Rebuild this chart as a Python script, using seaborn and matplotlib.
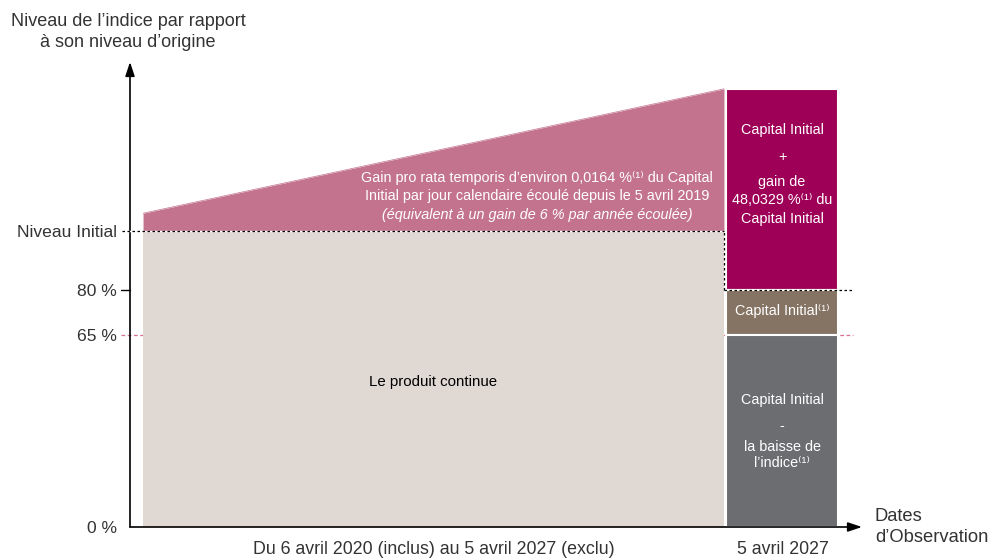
import numpy as np
import matplotlib
matplotlib.use('Agg')
import matplotlib.pyplot as plt
import seaborn as sns

# data (index level in % of initial level, time in years after 5 April 2019)
years = [1, 8]
gain_level = [106, 148.03]
initial_level = 100
barrier_gain = 80
barrier_capital = 65
obs_center = 8.70
obs_width = 1.35
ytick_vals = [0, 65, 80, 100]
ytick_labels = ['0 %', '65 %', '80 %', 'Niveau Initial']

c_gain = '#C4738F'
c_cont = '#DFD8D3'
c_win = '#9E0057'
c_cap = '#857363'
c_loss = '#6B6D70'
c_txt = '#333333'

sns.set_theme(style='white')
plt.rcParams['font.family'] = ['Liberation Sans', 'DejaVu Sans']

fig = plt.figure(figsize=(9.89, 5.58), dpi=100)
ax = fig.add_axes([130/989, 31/558, 732/989, 465/558])
ax.set_xlim(0.843, 9.663)
ax.set_ylim(0, 157.1)
for s in ax.spines.values():
    s.set_visible(False)

# period "le produit continue"
ax.fill_between(years, 0, initial_level, color=c_cont, lw=0, zorder=2)
sns.lineplot(x=years, y=gain_level, ax=ax, color=c_gain, lw=0.5, zorder=2)
ax.fill_between(years, initial_level, gain_level, color=c_gain, lw=0, zorder=2)

# observation date bars
ax.bar(obs_center, gain_level[1] - barrier_gain, bottom=barrier_gain, width=obs_width,
       color=c_win, edgecolor='white', lw=1.5, zorder=3)
ax.bar(obs_center, barrier_gain - barrier_capital, bottom=barrier_capital, width=obs_width,
       color=c_cap, edgecolor='white', lw=1.5, zorder=3)
ax.bar(obs_center, barrier_capital, bottom=0, width=obs_width,
       color=c_loss, edgecolor='white', lw=1.5, zorder=3)

# reference lines
x0 = 0.843
ax.plot([x0 - 0.1, years[1]], [initial_level]*2, color='white', lw=1, zorder=4, clip_on=False)
ax.plot([x0 - 0.1, years[1]], [initial_level]*2, color='black', lw=0.9, ls=(0, (2, 2)), zorder=4, clip_on=False)
ax.plot([years[1], years[1]], [barrier_gain, initial_level], color='black', lw=0.9, ls=(0, (2, 2)), zorder=4)
ax.plot([years[1], 9.55], [barrier_gain, barrier_gain], color='black', lw=0.9, ls=(0, (2, 2)), zorder=4)
ax.plot([x0 - 0.11, 9.55], [barrier_capital]*2, color='#D9708F', lw=0.9, ls=(0, (3, 2)), zorder=1, clip_on=False)
ax.plot([x0 - 0.11, x0], [barrier_gain]*2, color='black', lw=1, zorder=4, clip_on=False)

# axes with arrows
ax.annotate('', xy=(0, 1), xytext=(0, 0), xycoords='axes fraction',
            arrowprops=dict(arrowstyle='-|>,head_length=0.6,head_width=0.2', color='black', lw=1.2,
                            mutation_scale=14, shrinkA=0, shrinkB=0))
ax.annotate('', xy=(1, 0), xytext=(0, 0), xycoords='axes fraction',
            arrowprops=dict(arrowstyle='-|>,head_length=0.6,head_width=0.2', color='black', lw=1.2,
                            mutation_scale=14, shrinkA=0, shrinkB=0))

ax.set_yticks(ytick_vals)
ax.set_yticklabels(ytick_labels, fontsize=12.6, color=c_txt)
ax.tick_params(axis='y', length=0, pad=9.5)
ax.set_xticks([])

# texts
fs = 10.4
gx = 5.75
ax.text(gx, 117.9, 'Gain pro rata temporis d’environ 0,0164 %⁽¹⁾ du Capital',
        ha='center', va='center', fontsize=fs, color='white', zorder=5)
ax.text(gx, 111.8, 'Initial par jour calendaire écoulé depuis le 5 avril 2019',
        ha='center', va='center', fontsize=fs, color='white', zorder=5)
ax.text(gx, 105.4, '(équivalent à un gain de 6 % par année écoulée)',
        ha='center', va='center', fontsize=fs, color='white', style='italic', zorder=5)
ax.text(4.49, 49, 'Le produit continue', ha='center', va='center', fontsize=10.8, color='black', zorder=5)

win_lines = [('Capital Initial', 134), ('+', 125), ('gain de', 116.5), ('48,0329 %⁽¹⁾ du', 110.5), ('Capital Initial', 104)]
for t, yv in win_lines:
    ax.text(obs_center, yv, t, ha='center', va='center', fontsize=fs, color='white', zorder=5)
ax.text(obs_center, 73, 'Capital Initial⁽¹⁾', ha='center', va='center', fontsize=fs, color='white', zorder=5)
loss_lines = [('Capital Initial', 43), ('-', 34), ('la baisse de', 27), ('l’indice⁽¹⁾', 21.5)]
for t, yv in loss_lines:
    ax.text(obs_center, yv, t, ha='center', va='center', fontsize=fs, color='white', zorder=5)

fig.text(128/989, 1 - 32/558, 'Niveau de l’indice par rapport\nà son niveau d’origine',
         ha='center', va='center', fontsize=13, color=c_txt, linespacing=1.3)
fig.text(434/989, 1 - 549/558, 'Du 6 avril 2020 (inclus) au 5 avril 2027 (exclu)',
         ha='center', va='center', fontsize=12.8, color=c_txt)
fig.text(783/989, 1 - 549/558, '5 avril 2027', ha='center', va='center', fontsize=12.8, color=c_txt)
fig.text(875/989, 1 - 527/558, 'Dates\nd’Observation', ha='left', va='center',
         fontsize=13.2, color=c_txt, linespacing=1.3)

fig.savefig('out.png', dpi=100)
